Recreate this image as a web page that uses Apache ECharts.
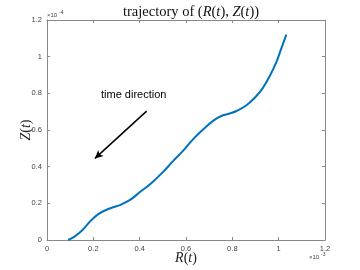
<!DOCTYPE html>
<html><head><meta charset="utf-8">
<script src="https://cdn.jsdelivr.net/npm/echarts@6/dist/echarts.min.js"></script>
<style>html,body{margin:0;padding:0;background:#fff}#c{width:360px;height:270px}</style>
</head><body><div id="c"></div>
<script>
// R values (×1e-3) and Z values (×1e-4)
var R = [0.092, 0.12, 0.15, 0.185, 0.22, 0.257, 0.29, 0.315, 0.36, 0.40, 0.45, 0.50, 0.544, 0.59, 0.631, 0.68, 0.717, 0.75, 0.789, 0.82, 0.861, 0.90, 0.932, 0.96, 0.99, 1.01, 1.033];
var Z = [0, 0.02, 0.05, 0.10, 0.14, 0.165, 0.18, 0.19, 0.22, 0.26, 0.31, 0.37, 0.43, 0.49, 0.55, 0.61, 0.65, 0.675, 0.69, 0.705, 0.735, 0.78, 0.83, 0.89, 0.97, 1.04, 1.12];
var xTicks = [0, 0.2, 0.4, 0.6, 0.8, 1, 1.2];
var yTicks = [0, 0.2, 0.4, 0.6, 0.8, 1, 1.2];
var arrowTail = [0.43, 0.703];
var arrowHead = [0.207, 0.445];

var data = R.map(function(r, i){ return [r, Z[i]]; });
var axisCol = '#888';
var lblCol = '#444';
var serif = 'Liberation Serif';
function axisBase(pos, showLabel){
  return {
    type: 'value', min: 0, max: 1.2, interval: 0.2, position: pos,
    axisLine: {show: true, onZero: false, lineStyle: {color: axisCol, width: 1}},
    axisTick: {show: true, inside: true, length: 3, lineStyle: {color: axisCol}},
    axisLabel: {show: showLabel, color: lblCol, fontSize: 7.5, fontFamily: 'Liberation Sans', margin: 5,
      formatter: function(v){ return String(parseFloat(v.toFixed(2))); }},
    splitLine: {show: false}
  };
}
var xb = axisBase('bottom', true);
xb.name = '{i|R}{n|(}{i|t}{n|)}';
xb.nameLocation = 'middle'; xb.nameGap = 11; xb.nameMoveOverlap = false;
xb.nameTextStyle = {rich: {i: {fontFamily: serif, fontStyle: 'italic', fontSize: 14, color: '#222'}, n: {fontFamily: serif, fontSize: 14, color: '#222'}}};
var xt = axisBase('top', false);
var yl = axisBase('left', true);
yl.name = '{i|Z}{n|(}{i|t}{n|)}';
yl.nameLocation = 'middle'; yl.nameGap = 14; yl.nameRotate = 90; yl.nameMoveOverlap = false;
yl.nameTextStyle = {rich: {i: {fontFamily: serif, fontStyle: 'italic', fontSize: 14, color: '#222'}, n: {fontFamily: serif, fontSize: 14, color: '#222'}}};
var yr = axisBase('right', false);

var chart = echarts.init(document.getElementById('c'), null, {renderer: 'canvas'});
chart.setOption({
  animation: false,
  title: {
    text: '{n|trajectory of (}{i|R}{n|(}{i|t}{n|), }{i|Z}{n|(}{i|t}{n|))}',
    left: 186, top: 0, textAlign: 'center',
    textStyle: {fontWeight: 'normal', rich: {n: {fontFamily: serif, fontSize: 14.5, fontWeight: 'normal', color: '#111'}, i: {fontFamily: serif, fontStyle: 'italic', fontWeight: 'normal', fontSize: 14.5, color: '#111'}}}
  },
  grid: {left: 47, right: 35, top: 20, bottom: 30, containLabel: false, outerBoundsMode: 'none'},
  xAxis: [xb, xt],
  yAxis: [yl, yr],
  graphic: [
    {type: 'text', left: 47, top: 12, style: {text: '×10', fill: lblCol, font: '6px Liberation Sans'}},
    {type: 'text', left: 59, top: 10, style: {text: '-4', fill: lblCol, font: '5px Liberation Sans'}},
    {type: 'text', left: 309, top: 254, style: {text: '×10', fill: lblCol, font: '6px Liberation Sans'}},
    {type: 'text', left: 321, top: 252, style: {text: '-3', fill: lblCol, font: '5px Liberation Sans'}},
    {type: 'text', left: 101, top: 89, style: {text: 'time direction', fill: '#000', font: '11px Liberation Sans'}}
  ],
  series: [{
    type: 'line', data: data, smooth: 0.4, showSymbol: false, xAxisIndex: 0, yAxisIndex: 0,
    lineStyle: {color: '#0072BD', width: 2},
    markLine: {
      silent: true, symbol: ['none', 'arrow'], symbolSize: [6, 8],
      label: {show: false},
      lineStyle: {color: '#000', width: 1.5, type: 'solid'},
      data: [[{coord: arrowTail}, {coord: arrowHead}]]
    }
  }]
});
</script></body></html>
